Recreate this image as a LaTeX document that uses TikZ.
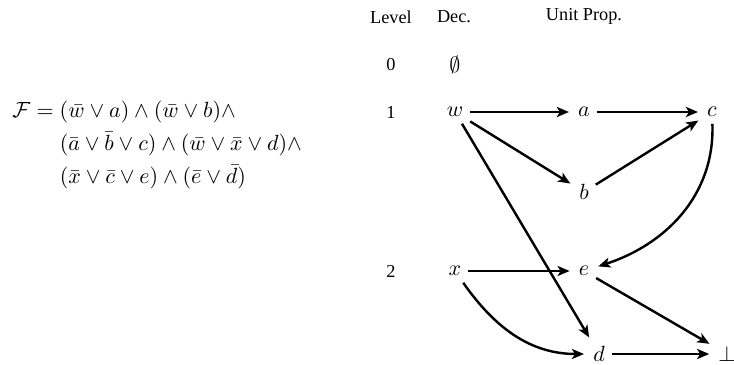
\documentclass[tikz,border=0pt]{standalone}
\usepackage{amsmath}
\usepackage{fontspec}
\newfontfamily\tms{Liberation Serif}
\usetikzlibrary{arrows.meta}
\tikzset{
  hdr/.style={inner sep=0pt, font=\tms\fontsize{8.3}{10}\selectfont},
  v/.style={inner sep=3pt},
  arr/.style={line width=1.1pt, -{Stealth[length=5.5pt,width=4.6pt,inset=1.4pt]}, shorten >=1pt}
}
\begin{document}
\begin{tikzpicture}[x=0.4545pt,y=-0.4545pt]
\useasboundingbox (0,0) rectangle (734,365);
% formula
\node[anchor=west, inner sep=0pt] (F) at (12,145) {$\begin{aligned}
\mathcal{F} ={} & (\bar w\vee a)\wedge(\bar w\vee b)\wedge\\
& (\bar a\vee\bar b\vee c)\wedge(\bar w\vee\bar x\vee d)\wedge\\
& (\bar x\vee\bar c\vee e)\wedge(\bar e\vee\bar d)
\end{aligned}$};
% headers
\node[hdr] (hl) at (391,17) {Level};
\node[hdr] (hd) at (454,17) {Dec.};
\node[hdr] (hu) at (584,16) {Unit Prop.};
\node[hdr] (l0) at (391,65) {0};
\node[hdr] (l1) at (391,112) {1};
\node[hdr] (l2) at (391,271) {2};
\node[inner sep=0pt] (empty) at (455,65) {$\emptyset$};
% graph nodes
\node[v] (w) at (455,112) {$w$};
\node[v] (a) at (584,112) {$a$};
\node[v] (c) at (712,112) {$c$};
\node[v] (b) at (584,192) {$b$};
\node[v] (x) at (455,271) {$x$};
\node[v] (e) at (584,271) {$e$};
\node[v] (d) at (599,354) {$d$};
\node[v] (bot) at (727,354) {$\bot$};
% edges
\draw[arr] (w) -- (a);
\draw[arr] (a) -- (c);
\draw[arr] (w) -- (b);
\draw[arr] (b) -- (c);
\draw[arr] (w) -- (d);
\draw[arr] (c) to[out=-88,in=18] (e);
\draw[arr] (x) -- (e);
\draw[arr] (x) to[out=-55,in=180] (d);
\draw[arr] (e) -- (bot);
\draw[arr] (d) -- (bot);
\end{tikzpicture}
\end{document}
